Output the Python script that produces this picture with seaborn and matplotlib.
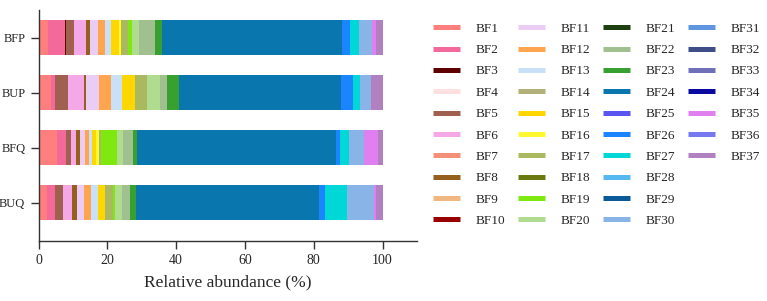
import pandas as pd
import seaborn as sns
import matplotlib.pyplot as plt
from matplotlib.lines import Line2D

# Amostras e taxa
samples = ['BFP', 'BUP', 'BFQ', 'BUQ']
taxa = [f'BF{i}' for i in range(1, 38)]

colors = [
    '#FF7F7F', '#F2699A', '#5C0000', '#FFE0E0', '#A0604F',
    '#F5A8E8', '#F59078', '#95601E', '#F0B880', '#990000',
    '#EBCCF5', '#FFA550', '#C8E0F8', '#B0B078', '#FFD700',
    '#FFF830', '#AAB860', '#6B7A10', '#7EE810', '#B0DC90',
    '#1E4010', '#A0C090', '#38A030', '#0A76AE', '#5A55F0',
    '#1A85FF', '#00D8D8', '#55B8F0', '#0A5A9A', '#88B4E8',
    '#6095E0', '#404E88', '#7070B8', '#0A0AA0', '#E080F0',
    '#7878F0', '#B080C0',
]

# Abundância relativa (%) por taxon, BF1..BF37
BFP = [2.8, 5.0, 0.2, 0, 2.4, 3.4, 0, 1.3, 0, 0,
       2.3, 2.0, 1.8, 0, 2.3, 0.5, 2.0, 0, 1.2, 2.0,
       0, 4.8, 1.9, 52.4, 0, 2.3, 2.4, 0, 0, 4.0,
       0, 0, 0, 0, 1.1, 0, 1.9]
BUP = [3.6, 1.3, 0, 0, 3.6, 4.6, 0, 0.8, 0, 0,
       3.6, 3.5, 3.4, 0, 3.6, 0, 3.6, 0, 0, 3.7,
       0, 1.9, 3.6, 47.2, 0, 3.4, 2.0, 0, 0, 3.1,
       0, 0, 0, 0, 0, 0, 3.5]
BFQ = [5.3, 2.7, 0, 0, 1.5, 1.5, 0, 1.2, 0, 0,
       1.3, 1.2, 0.8, 0, 1.3, 0.7, 0.7, 0, 4.5, 1.9,
       0, 2.8, 1.1, 58.0, 0, 1.0, 2.6, 0, 0, 4.4,
       0, 0, 0, 0, 4.2, 0, 1.3]
BUQ = [2.6, 2.2, 0, 0, 2.3, 2.7, 0, 1.3, 0, 0,
       2.1, 2.0, 2.1, 0, 2.0, 0, 2.3, 0, 0.6, 2.1,
       0, 2.2, 1.9, 53.0, 0, 1.9, 6.3, 0, 0, 7.8,
       0, 0, 0, 0, 0.7, 0, 1.9]


def build_df():
    rows = []
    for s, vals in zip(samples, [BFP, BUP, BFQ, BUQ]):
        for t, v in zip(taxa, vals):
            rows.append({'sample': s, 'taxon': t, 'value': v})
    df = pd.DataFrame(rows)
    # soma acumulada para empilhar as barras
    df['cum'] = df.groupby('sample')['value'].cumsum()
    return df


def main():
    df = build_df()

    sns.set_style('ticks')
    plt.rcParams['font.family'] = ['Liberation Serif', 'DejaVu Serif']

    fig = plt.figure(figsize=(7.67, 3.01), dpi=100)
    ax = fig.add_axes([0.0502, 0.1993, 0.4935, 0.7674])

    # desenha do último ao primeiro, cada barra cobre a seguinte
    for t, c in zip(reversed(taxa), reversed(colors)):
        sub = df[df['taxon'] == t]
        sns.barplot(data=sub, x='cum', y='sample', order=samples, color=c,
                    saturation=1, width=0.63, linewidth=0, errorbar=None,
                    orient='h', ax=ax)

    ax.set_xlim(0, 110)
    ax.set_ylim(3.7, -0.5)
    ax.set_xticks([0, 20, 40, 60, 80, 100])
    ax.set_xlabel('Relative abundance (%)', fontsize=12.5, labelpad=5)
    ax.set_ylabel('')
    ax.tick_params(axis='both', length=6, width=1.0, color='#333333', labelsize=10)
    ax.tick_params(axis='y', labelsize=9)
    sns.despine(ax=ax)
    for sp in ['left', 'bottom']:
        ax.spines[sp].set_linewidth(1.0)
        ax.spines[sp].set_color('#333333')

    # legenda em 4 colunas de 10 linhas
    handles = [Line2D([0], [0], color=c, lw=3.6, solid_capstyle='butt') for c in colors]
    labels = list(taxa)
    for _ in range(3):
        handles.append(Line2D([0], [0], color='none'))
        labels.append('')
    fig.legend(handles, labels, ncol=4, loc='upper left',
               bbox_to_anchor=(433 / 767, 0.925), frameon=False, fontsize=9.5,
               handlelength=2.05, handletextpad=1.2, columnspacing=0.95,
               labelspacing=0.69, borderpad=0, borderaxespad=0)

    plt.savefig('out.png', dpi=100)
    plt.close()


if __name__ == '__main__':
    main()
